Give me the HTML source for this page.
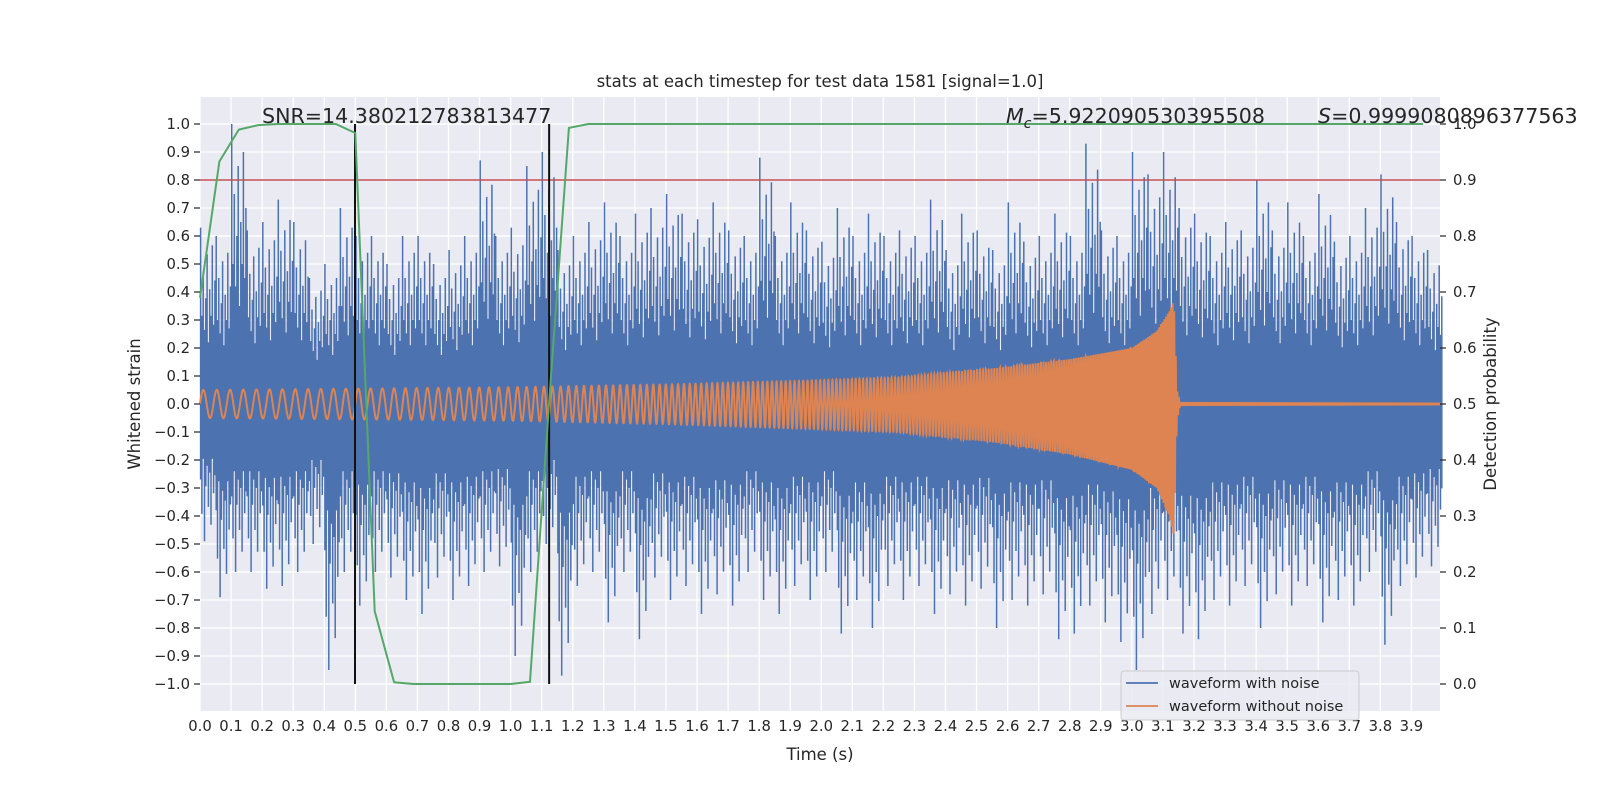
<!DOCTYPE html>
<html><head><meta charset="utf-8"><style>
html,body{margin:0;padding:0;background:#fff;}
svg text{font-family:"DejaVu Sans","Liberation Sans",sans-serif;fill:#262626;}
</style></head><body>
<svg id="chart" xmlns="http://www.w3.org/2000/svg" width="1600" height="800" viewBox="0 0 1600 800">
<rect x="0" y="0" width="1600" height="800" fill="#ffffff"/>
<rect x="200" y="97" width="1240" height="614" fill="#eaeaf2"/>
<g id="grid"></g>
<g id="series"></g>
<g id="axes"></g>
<text x="820" y="87" font-size="16.5" text-anchor="middle">stats at each timestep for test data 1581 [signal=1.0]</text>
<text x="820" y="760" font-size="16.5" text-anchor="middle">Time (s)</text>
<text transform="translate(140,404) rotate(-90)" font-size="16.5" text-anchor="middle">Whitened strain</text>
<text transform="translate(1496,404) rotate(-90)" font-size="16.5" text-anchor="middle">Detection probability</text>
<text x="262" y="123" font-size="20.6">SNR=14.380212783813477</text>
<text x="1006" y="123" font-size="20.6"><tspan font-style="italic">M</tspan><tspan font-style="italic" font-size="14" dy="5">c</tspan><tspan dy="-5">=5.922090530395508</tspan></text>
<text x="1318" y="123" font-size="20.6"><tspan font-style="italic">S</tspan>=0.9999080896377563</text>
<g>
<rect x="1121" y="671" width="238" height="49" rx="3" fill="#eaeaf2" fill-opacity="0.85" stroke="#cccccc" stroke-width="1"/>
<line x1="1126" y1="683" x2="1158" y2="683" stroke="#4c72b0" stroke-width="1.8"/>
<text x="1169" y="688" font-size="14.5">waveform with noise</text>
<line x1="1126" y1="706" x2="1158" y2="706" stroke="#dd8452" stroke-width="1.8"/>
<text x="1169" y="711" font-size="14.5">waveform without noise</text>
</g>
</svg>
<script>
// ---- data ----
const binStart = [0,0.05,0.1,0.15,0.2,0.25,0.3,0.35,0.4,0.45,0.5,0.55,0.6,0.65,0.7,0.75,0.8,0.85,0.9,0.95,1.0,1.05,1.1,1.15,1.2,1.25,1.3,1.35,1.4,1.45,1.5,1.55,1.6,1.65,1.7,1.75,1.8,1.85,1.9,1.95,2.0,2.05,2.1,2.15,2.2,2.25,2.3,2.35,2.4,2.45,2.5,2.55,2.6,2.65,2.7,2.75,2.8,2.85,2.9,2.95,3.0,3.05,3.1,3.15,3.2,3.25,3.3,3.35,3.4,3.45,3.5,3.55,3.6,3.65,3.7,3.75,3.8,3.85,3.9,3.95];
const noisePeakHi = [0.63,0.6,1.0,0.62,0.65,0.73,0.65,0.45,0.5,0.7,0.6,0.6,0.5,0.6,0.6,0.5,0.55,0.6,0.87,0.6,0.63,0.85,0.9,0.55,0.6,0.65,0.72,0.6,0.68,0.7,0.75,0.68,0.66,0.72,0.62,0.6,0.88,0.6,0.72,0.62,0.58,0.7,0.6,0.68,0.6,0.62,0.6,0.73,0.55,0.68,0.62,0.55,0.72,0.58,0.6,0.68,0.6,0.93,0.62,0.6,0.9,0.82,0.9,0.7,0.68,0.6,0.65,0.62,0.8,0.62,0.72,0.6,0.75,0.58,0.6,0.7,0.82,0.65,0.6,0.55];
const noisePeakLo = [-0.49,-0.69,-0.6,-0.6,-0.66,-0.65,-0.6,-0.5,-0.95,-0.6,-0.72,-0.6,-0.62,-0.7,-0.75,-0.62,-0.7,-0.65,-0.6,-0.58,-0.9,-0.6,-0.5,-0.97,-0.65,-0.6,-0.78,-0.6,-0.84,-0.62,-0.7,-0.65,-0.75,-0.68,-0.72,-0.6,-0.7,-0.75,-0.65,-0.7,-0.6,-0.82,-0.7,-0.8,-0.65,-0.7,-0.65,-0.75,-0.68,-0.72,-0.66,-0.8,-0.7,-0.72,-0.68,-0.84,-0.82,-0.72,-0.78,-0.85,-0.95,-0.75,-0.7,-0.82,-0.84,-0.7,-0.72,-0.65,-0.8,-0.68,-0.72,-0.65,-0.78,-0.7,-0.72,-0.6,-0.86,-0.65,-0.62,-0.58];
const chirpT = [0,0.5,1.0,1.5,2.0,2.25,2.58,2.8,3.0,3.08,3.12,3.135,3.145,3.155,3.99];
const chirpAmpHi = [0.05,0.055,0.06,0.07,0.085,0.095,0.13,0.16,0.2,0.26,0.33,0.37,0.05,0.004,0.002];
const chirpAmpLo = [0.05,0.055,0.06,0.072,0.09,0.1,0.14,0.18,0.235,0.3,0.4,0.47,0.06,0.004,0.002];
const chirpFreq = [23,25,33,50,75,92,110,125,150,170,190,200,200,200,200];
const probT = [0,0.0625,0.125,0.1875,0.25,0.3125,0.375,0.4375,0.5,0.5625,0.625,0.6875,0.75,0.8125,0.875,0.9375,1.0,1.0625,1.125,1.1875,1.25,3.9375];
const probV = [0.69,0.933,0.99,0.998,1.0,1.0,1.0,1.0,0.984,0.13,0.003,0.0,0.0,0.0,0.0,0.0,0.0,0.004,0.51,0.993,1.0,1.0];
const threshold = 0.9;
const vlineTimes = [0.499,1.124];
const xTicks = [];for(let i=0;i<40;i++)xTicks.push(i/10);
const yTicks = [];for(let i=-10;i<=10;i++)yTicks.push(i/10);
const y2Ticks = [];for(let i=0;i<=10;i++)y2Ticks.push(i/10);

// ---- axes ----
const X0=200,X1=1440,T0=0,T1=3.992;
const sx=t=>X0+(t-T0)/(T1-T0)*(X1-X0);
const sy=v=>404-v*280;
const sy2=v=>684-v*560;
const NS='http://www.w3.org/2000/svg';
function mk(tag,attrs,parent){const e=document.createElementNS(NS,tag);for(const k in attrs)e.setAttribute(k,attrs[k]);parent.appendChild(e);return e;}
const grid=document.getElementById('grid'),ser=document.getElementById('series'),axes=document.getElementById('axes');
function interp(xs,ys,x){if(x<=xs[0])return ys[0];for(let i=1;i<xs.length;i++){if(x<=xs[i]){const f=(x-xs[i-1])/(xs[i]-xs[i-1]);return ys[i-1]+f*(ys[i]-ys[i-1]);}}return ys[ys.length-1];}

xTicks.forEach(t=>{const x=sx(t);
 const g=mk('line',{x1:x,x2:x,y1:97,y2:711,stroke:'#fff','stroke-width':1.3},grid);
 
 const l=mk('text',{x:x,y:731,'font-size':14.8,'text-anchor':'middle'},axes);l.textContent=t.toFixed(1);
 });
yTicks.forEach(v=>{const y=sy(v);
 const g=mk('line',{x1:200,x2:1440,y1:y,y2:y,stroke:'#fff','stroke-width':1.3},grid);
 
 mk('line',{x1:194,x2:200,y1:y,y2:y,stroke:'#262626','stroke-width':1.2},axes);
 const l=mk('text',{x:190,y:y+5,'font-size':14.8,'text-anchor':'end'},axes);l.textContent=(v<0?'\u2212':'')+Math.abs(v).toFixed(1);
 });
y2Ticks.forEach(v=>{const y=sy2(v);
 const g=mk('line',{x1:200,x2:1440,y1:y,y2:y,stroke:'#fff','stroke-width':1.3},grid);
 
 mk('line',{x1:1440,x2:1446,y1:y,y2:y,stroke:'#262626','stroke-width':1.2},axes);
 const l=mk('text',{x:1453,y:y+5,'font-size':14.8},axes);l.textContent=v.toFixed(1);
 });

// ---- noisy waveform ----
const core=mk('rect',{x:X0,y:sy(0.12),width:X1-X0,height:sy(-0.12)-sy(0.12),fill:'#4c72b0'},ser);

const hiPat=[1,0.5,0.75,0.42,0.6,0.85,0.35,0.65,0.5,0.9,0.45,0.7];
const loPat=[0.55,0.8,0.4,1,0.6,0.45,0.75,0.5,0.88,0.4,0.65,0.52];
let d='';
binStart.forEach((t,i)=>{const xa=sx(t),xb=sx(t+0.05);const n=hiPat.length;
 for(let k=0;k<n;k++){const x=xa+(k+0.5)*(xb-xa)/n;
  const hi=Math.max(0.12,noisePeakHi[i]*hiPat[k]),lo=Math.min(-0.12,noisePeakLo[i]*loPat[k]);
  d+='M'+x.toFixed(1)+' '+sy(hi).toFixed(1)+'V'+sy(lo).toFixed(1);}
});
const noisy=mk('path',{d:d,stroke:'#4c72b0','stroke-width':1.5,fill:'none'},ser);


// ---- clean waveform ----
let ph=0,pd='';const dt=0.0002;
for(let t=0;t<=T1;t+=dt){const f=interp(chirpT,chirpFreq,t);ph+=2*Math.PI*f*dt;
 const s=Math.sin(ph);const a=s>=0?interp(chirpT,chirpAmpHi,t):interp(chirpT,chirpAmpLo,t);
 pd+=(pd?'L':'M')+sx(t).toFixed(2)+' '+sy(a*s).toFixed(2);}
const clean=mk('path',{d:pd,stroke:'#dd8452','stroke-width':2,fill:'none'},ser);


// ---- threshold, vlines, probability ----
const th=mk('line',{x1:X0,x2:X1,y1:sy2(threshold),y2:sy2(threshold),stroke:'#c44e52','stroke-width':1.6},ser);

vlineTimes.forEach(t=>{const v=mk('line',{x1:sx(t),x2:sx(t),y1:sy(1),y2:sy(-1),stroke:'#111','stroke-width':2},ser);
 });
const pp=probT.map((t,i)=>sx(t).toFixed(1)+','+sy2(probV[i]).toFixed(1)).join(' ');
const prob=mk('polyline',{points:pp,stroke:'#55a868','stroke-width':2,fill:'none'},ser);

</script>
</body></html>
